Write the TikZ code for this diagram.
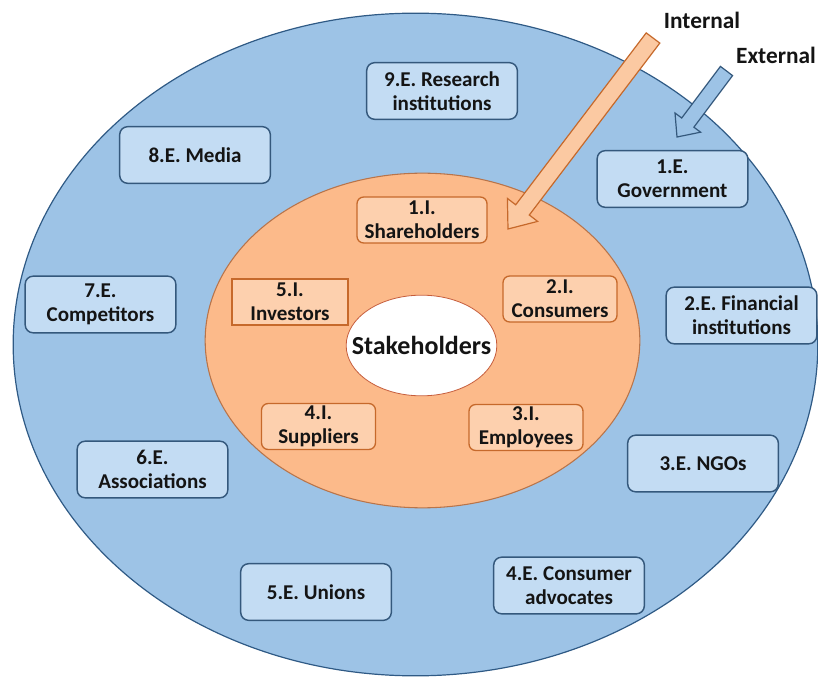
\documentclass[tikz,border=0pt]{standalone}
\usepackage{fontspec}
\setmainfont{Carlito}
\usetikzlibrary{shapes.geometric}
\definecolor{outfill}{HTML}{9DC3E6}
\definecolor{outline}{HTML}{2F5A85}
\definecolor{efill}{HTML}{C3DCF3}
\definecolor{eborder}{HTML}{34587C}
\definecolor{infill}{HTML}{FCBA8A}
\definecolor{inline}{HTML}{B8744A}
\definecolor{ifill}{HTML}{FDD0AE}
\definecolor{iborder}{HTML}{C6692B}
\definecolor{arfill}{HTML}{FBC9A2}
\definecolor{txt}{HTML}{141414}
\tikzset{
  boxfont/.style={font=\bfseries\fontsize{15.8}{18.2}\selectfont, text=txt},
  ebox/.style={boxfont, draw=eborder, fill=efill, line width=1.1pt, rounded corners=6pt,
    minimum width=113pt, minimum height=42.5pt, align=center, inner sep=0pt},
  ibox/.style={boxfont, draw=iborder, fill=ifill, line width=1pt, rounded corners=5pt,
    minimum width=85.5pt, minimum height=34.5pt, align=center, inner sep=0pt},
  ring/.style={ellipse, inner sep=0pt, outer sep=0pt},
  biglabel/.style={font=\bfseries\fontsize{17.5}{20}\selectfont, text=txt, inner sep=0pt}
}
\begin{document}
\begin{tikzpicture}[x=0.75pt, y=-0.75pt]
\useasboundingbox (0,0) rectangle (818,677);
% rings
\node[ring, draw=outline, fill=outfill, line width=0.9pt, minimum width=603.5pt, minimum height=497pt] (outer) at (415.5,344.5) {};
\node[ring, draw=inline, fill=infill, line width=0.8pt, minimum width=326pt, minimum height=251pt] (inner) at (422.5,340.5) {};
\node[ring, draw=inline!80!red, fill=white, line width=0.6pt, minimum width=113pt, minimum height=75.5pt,
  label={[font=\bfseries\fontsize{19.5}{22}\selectfont, text=txt]center:Stakeholders}] (core) at (421.5,345.5) {};
% external boxes
\node[ebox] (e9) at (442,91) {9.E. Research\\institutions};
\node[ebox] (e8) at (195,155) {8.E. Media};
\node[ebox] (e1) at (672.5,179) {1.E.\\Government};
\node[ebox] (e7) at (100.5,304.5) {7.E.\\Competitors};
\node[ebox] (e2) at (741.5,315.5) {2.E. Financial\\institutions};
\node[ebox] (e6) at (152.5,469.5) {6.E.\\Associations};
\node[ebox] (e3) at (703,463.5) {3.E. NGOs};
\node[ebox] (e5) at (316,592) {5.E. Unions};
\node[ebox] (e4) at (569,585.5) {4.E. Consumer\\advocates};
% internal boxes
\node[ibox, minimum width=97.5pt] (i1) at (422,220) {1.I.\\Shareholders};
\node[ibox] (i2) at (560,299) {2.I.\\Consumers};
\node[ibox, rounded corners=0pt, minimum width=87pt] (i5) at (290,302) {5.I.\\Investors};
\node[ibox] (i4) at (318.5,426.5) {4.I.\\Suppliers};
\node[ibox] (i3) at (526,427.5) {3.I.\\Employees};
% labels
\node[biglabel] (lint) at (702,20) {Internal};
\node[biglabel] (lext) at (776,55) {External};
% internal arrow
\draw[draw=iborder, fill=arfill, line width=0.9pt, line join=miter]
  (659.8,43.1) -- (529.3,215.0) -- (537.6,221.4) -- (508,229) -- (507.4,198.4)
  -- (515.7,204.8) -- (646.2,32.9) -- cycle;
% external arrow
\draw[draw=eborder, fill=outfill, line width=0.9pt, line join=miter]
  (732.6,75.6) -- (693.9,127.2) -- (700.6,132.2) -- (677,137) -- (675.0,113.0)
  -- (681.7,118.0) -- (720.4,66.4) -- cycle;
\end{tikzpicture}
\end{document}
